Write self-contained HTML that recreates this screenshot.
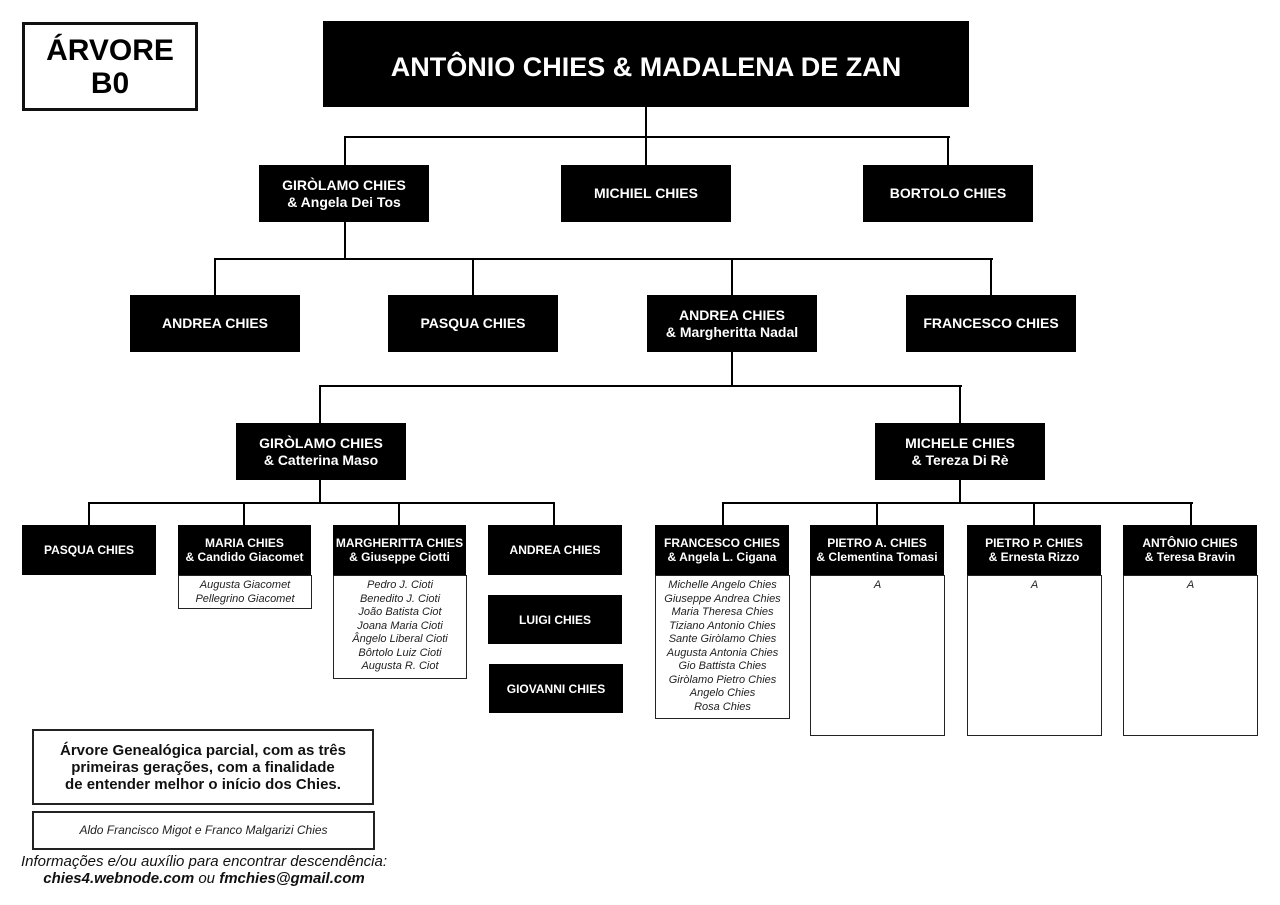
<!DOCTYPE html>
<html><head><meta charset="utf-8"><style>
body{margin:0;width:1280px;height:905px;background:#fff;position:relative;font-family:"Liberation Sans",Arial,sans-serif;overflow:hidden}
.b{position:absolute;background:#000;color:#fff;font-weight:bold;display:flex;align-items:center;justify-content:center;text-align:center;font-size:14px;line-height:17px}
.s{font-size:12px;line-height:14px}
.w{position:absolute;border:1px solid #222;background:#fff;font-style:italic;font-size:11px;line-height:13.5px;text-align:center;color:#222;box-sizing:border-box;padding-top:3px}
.h{position:absolute;height:2px;background:#000}
.v{position:absolute;width:2px;background:#000}
</style></head><body>
<div style="position:absolute;left:22px;top:22px;width:170px;height:83px;border:3px solid #111;font-weight:bold;font-size:30px;line-height:33px;text-align:center;display:flex;align-items:center;justify-content:center">ÁRVORE<br>B0</div>
<div class="b" style="left:323px;top:21px;width:646px;height:86px;font-size:27px;box-sizing:border-box;padding-top:6px">ANTÔNIO CHIES &amp; MADALENA DE ZAN</div>

<div class="v" style="left:645px;top:107px;height:31px"></div>
<div class="h" style="left:344px;top:136px;width:606px"></div>
<div class="v" style="left:344px;top:136px;height:30px"></div>
<div class="v" style="left:645px;top:136px;height:30px"></div>
<div class="v" style="left:947px;top:136px;height:30px"></div>

<div class="b" style="left:259px;top:165px;width:170px;height:57px">GIRÒLAMO CHIES<br>&amp; Angela Dei Tos</div>
<div class="b" style="left:561px;top:165px;width:170px;height:57px">MICHIEL CHIES</div>
<div class="b" style="left:863px;top:165px;width:170px;height:57px">BORTOLO CHIES</div>

<div class="v" style="left:344px;top:222px;height:38px"></div>
<div class="h" style="left:214px;top:258px;width:779px"></div>
<div class="v" style="left:214px;top:258px;height:38px"></div>
<div class="v" style="left:472px;top:258px;height:38px"></div>
<div class="v" style="left:731px;top:258px;height:38px"></div>
<div class="v" style="left:990px;top:258px;height:38px"></div>

<div class="b" style="left:130px;top:295px;width:170px;height:57px">ANDREA CHIES</div>
<div class="b" style="left:388px;top:295px;width:170px;height:57px">PASQUA CHIES</div>
<div class="b" style="left:647px;top:295px;width:170px;height:57px">ANDREA CHIES<br>&amp; Margheritta Nadal</div>
<div class="b" style="left:906px;top:295px;width:170px;height:57px">FRANCESCO CHIES</div>

<div class="v" style="left:731px;top:352px;height:35px"></div>
<div class="h" style="left:319px;top:385px;width:643px"></div>
<div class="v" style="left:319px;top:385px;height:39px"></div>
<div class="v" style="left:959px;top:385px;height:39px"></div>

<div class="b" style="left:236px;top:423px;width:170px;height:57px">GIRÒLAMO CHIES<br>&amp; Catterina Maso</div>
<div class="b" style="left:875px;top:423px;width:170px;height:57px">MICHELE CHIES<br>&amp; Tereza Di Rè</div>

<div class="v" style="left:319px;top:480px;height:24px"></div>
<div class="h" style="left:88px;top:502px;width:467px"></div>
<div class="v" style="left:88px;top:502px;height:24px"></div>
<div class="v" style="left:243px;top:502px;height:24px"></div>
<div class="v" style="left:398px;top:502px;height:24px"></div>
<div class="v" style="left:553px;top:502px;height:24px"></div>

<div class="v" style="left:959px;top:480px;height:24px"></div>
<div class="h" style="left:722px;top:502px;width:471px"></div>
<div class="v" style="left:722px;top:502px;height:24px"></div>
<div class="v" style="left:876px;top:502px;height:24px"></div>
<div class="v" style="left:1033px;top:502px;height:24px"></div>
<div class="v" style="left:1190px;top:502px;height:24px"></div>

<div class="b s" style="left:22px;top:525px;width:134px;height:50px">PASQUA CHIES</div>
<div class="b s" style="left:178px;top:525px;width:133px;height:50px">MARIA CHIES<br>&amp; Candido Giacomet</div>
<div class="w" style="left:178px;top:575px;width:134px;height:34px">Augusta Giacomet<br>Pellegrino Giacomet</div>
<div class="b s" style="left:333px;top:525px;width:133px;height:50px">MARGHERITTA CHIES<br>&amp; Giuseppe Ciotti</div>
<div class="w" style="left:333px;top:575px;width:134px;height:104px">Pedro J. Cioti<br>Benedito J. Cioti<br>João Batista Ciot<br>Joana Maria Cioti<br>Ângelo Liberal Cioti<br>Bôrtolo Luiz Cioti<br>Augusta R. Ciot</div>
<div class="b s" style="left:488px;top:525px;width:134px;height:50px">ANDREA CHIES</div>
<div class="b s" style="left:488px;top:595px;width:134px;height:49px">LUIGI CHIES</div>
<div class="b s" style="left:489px;top:664px;width:134px;height:49px">GIOVANNI CHIES</div>

<div class="b s" style="left:655px;top:525px;width:134px;height:50px">FRANCESCO CHIES<br>&amp; Angela L. Cigana</div>
<div class="w" style="left:655px;top:575px;width:135px;height:144px">Michelle Angelo Chies<br>Giuseppe Andrea Chies<br>Maria Theresa Chies<br>Tiziano Antonio Chies<br>Sante Giròlamo Chies<br>Augusta Antonia Chies<br>Gio Battista Chies<br>Giròlamo Pietro Chies<br>Angelo Chies<br>Rosa Chies</div>
<div class="b s" style="left:810px;top:525px;width:134px;height:50px">PIETRO A. CHIES<br>&amp; Clementina Tomasi</div>
<div class="w" style="left:810px;top:575px;width:135px;height:161px">A</div>
<div class="b s" style="left:967px;top:525px;width:134px;height:50px">PIETRO P. CHIES<br>&amp; Ernesta Rizzo</div>
<div class="w" style="left:967px;top:575px;width:135px;height:161px">A</div>
<div class="b s" style="left:1123px;top:525px;width:134px;height:50px">ANTÔNIO CHIES<br>&amp; Teresa Bravin</div>
<div class="w" style="left:1123px;top:575px;width:135px;height:161px">A</div>

<div style="position:absolute;left:32px;top:729px;width:338px;height:72px;border:2px solid #222;font-weight:bold;font-size:15px;line-height:17px;text-align:center;display:flex;align-items:center;justify-content:center;color:#111">Árvore Genealógica parcial, com as três<br>primeiras gerações, com a finalidade<br>de entender melhor o início dos Chies.</div>
<div style="position:absolute;left:32px;top:811px;width:339px;height:35px;border:2px solid #222;font-style:italic;font-size:12px;text-align:center;line-height:35px;color:#222">Aldo Francisco Migot e Franco Malgarizi Chies</div>
<div style="position:absolute;left:8px;top:853px;width:392px;text-align:center;font-style:italic;font-size:15px;line-height:17px;color:#111">Informações e/ou auxílio para encontrar descendência:<br><b>chies4.webnode.com</b> ou <b>fmchies@gmail.com</b></div>
</body></html>
